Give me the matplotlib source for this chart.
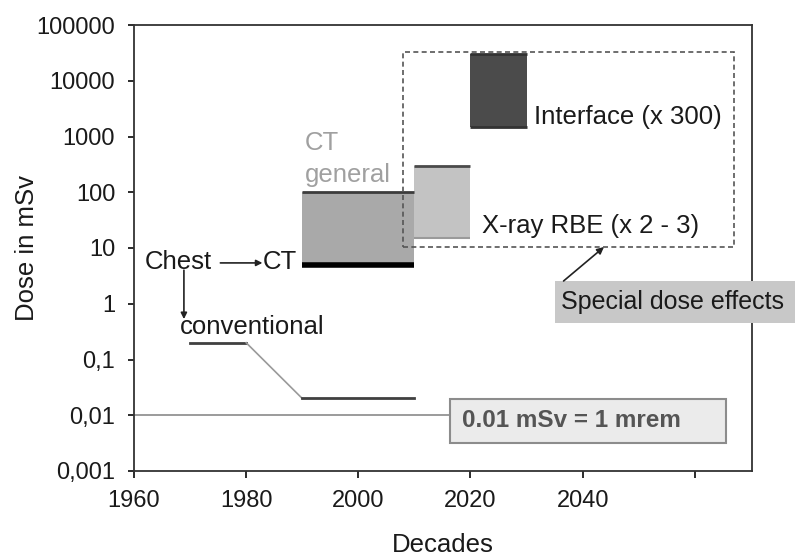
import matplotlib
matplotlib.use("Agg")
import matplotlib.pyplot as plt
from matplotlib.patches import Rectangle

plt.rcParams["font.family"] = ["Liberation Sans", "DejaVu Sans"]

# ---------------------------------------------------------------------------
# Data
# ---------------------------------------------------------------------------
dose_ticks = [0.001, 0.01, 0.1, 1, 10, 100, 1000, 10000, 100000]
dose_labels = ["0,001", "0,01", "0,1", "1", "10", "100", "1000", "10000", "100000"]
year_ticks = [1960, 1980, 2000, 2020, 2040, 2060]
year_labels = ["1960", "1980", "2000", "2020", "2040", ""]

# dose ranges: (start year, end year, low dose, high dose)
ct_general = (1990, 2010, 5, 100)
xray_rbe = (2010, 2020, 15, 300)
interface = (2020, 2030, 1500, 30000)

# conventional chest x-ray dose path
conv_years = [1970, 1980, 1990, 2010]
conv_dose = [0.2, 0.2, 0.02, 0.02]

mrem_level = 0.01

# special dose effects region
special_years = (2008, 2067)
special_dose = (10.5, 33000)

# ---------------------------------------------------------------------------
# Figure
# ---------------------------------------------------------------------------
fig = plt.figure(figsize=(7.95, 5.58), dpi=100)
W, H = 795, 558
ax = fig.add_axes([134 / W, 1 - 471 / H, (752 - 134) / W, (471 - 25) / H])
ax.set_yscale("log")
ax.set_xlim(1960, 2070.2)
ax.set_ylim(0.001, 100000)


def box(rng, face, top_col, bot_col=None, top_lw=2.0, bot_lw=2.0):
    x0, x1, lo, hi = rng
    ax.bar(x0, hi - lo, bottom=lo, width=x1 - x0, align="edge",
           color=face, linewidth=0, zorder=2)
    ax.hlines(hi, x0, x1, color=top_col, lw=top_lw, zorder=3)
    if bot_col is not None:
        ax.hlines(lo, x0, x1, color=bot_col, lw=bot_lw, zorder=3)


box(ct_general, "#a9a9a9", "#3c3c3c", "#000000", top_lw=2.0, bot_lw=4.0)
box(xray_rbe, "#c3c3c3", "#4a4a4a", "#9a9a9a", top_lw=2.0, bot_lw=1.5)
box(interface, "#4b4b4b", "#333333", "#333333", top_lw=2.0, bot_lw=2.0)

# conventional path: dark flats joined by thin grey slope
ax.plot(conv_years[:2], conv_dose[:2], color="#404040", lw=2, zorder=3)
ax.plot(conv_years[1:3], conv_dose[1:3], color="#9a9a9a", lw=1.2, zorder=3)
ax.plot(conv_years[2:], conv_dose[2:], color="#404040", lw=2, zorder=3)

# 0.01 mSv reference line and label box
ax.hlines(mrem_level, 1960, 2016.4, color="#8a8a8a", lw=1.2, zorder=2)
ax.add_patch(Rectangle((2016.4, 0.00318), 2065.5 - 2016.4, 0.0196 - 0.00318,
                       facecolor="#ebebeb", edgecolor="#8c8c8c", lw=1.5, zorder=4))
ax.text(2018.4, 0.0079, "0.01 mSv = 1 mrem", fontsize=17.5, fontweight="bold",
        color="#555555", va="center", ha="left", zorder=5)

# dashed region
ax.add_patch(Rectangle((special_years[0], special_dose[0]),
                       special_years[1] - special_years[0],
                       special_dose[1] - special_dose[0],
                       fill=False, edgecolor="#555555", lw=1.2,
                       linestyle=(0, (3, 2)), zorder=4))

# special dose effects label (box runs off the right edge)
ax.add_patch(Rectangle((2035.1, 0.452), 50, 2.56 - 0.452,
                       facecolor="#c8c8c8", edgecolor="none",
                       clip_on=False, zorder=6))
ax.text(2036.1, 1.07, "Special dose effects", fontsize=18, color="#1a1a1a",
        va="center", ha="left", clip_on=False, zorder=7)
ax.annotate("", xy=(2043.8, 10.4), xytext=(2036.6, 2.56),
            arrowprops=dict(arrowstyle="-|>", color="#222222", lw=1.2,
                            mutation_scale=10, shrinkA=0, shrinkB=0),
            zorder=7)

# text labels
ax.text(1990.4, 760, "CT", fontsize=18.5, color="#a0a0a0", va="center", ha="left")
ax.text(1990.4, 205, "general", fontsize=18.5, color="#a0a0a0", va="center", ha="left")
ax.text(2031.4, 2240, "Interface (x 300)", fontsize=18.5, color="#1a1a1a",
        va="center", ha="left")
ax.text(2022.1, 25, "X-ray RBE (x 2 - 3)", fontsize=18.5, color="#1a1a1a",
        va="center", ha="left")
ax.text(1962.0, 5.6, "Chest", fontsize=18.5, color="#1a1a1a", va="center", ha="left")
ax.text(1982.9, 5.6, "CT", fontsize=18.5, color="#1a1a1a", va="center", ha="left")
ax.text(1968.2, 0.38, "conventional", fontsize=18.5, color="#1a1a1a",
        va="center", ha="left")
ax.annotate("", xy=(1982.9, 5.4), xytext=(1975.4, 5.4),
            arrowprops=dict(arrowstyle="-|>", color="#222222", lw=1.2,
                            mutation_scale=9, shrinkA=0, shrinkB=0))
ax.annotate("", xy=(1968.9, 0.53), xytext=(1968.9, 4.0),
            arrowprops=dict(arrowstyle="-|>", color="#222222", lw=1.2,
                            mutation_scale=9, shrinkA=0, shrinkB=0))

# axes styling
ax.set_yticks(dose_ticks)
ax.set_yticklabels(dose_labels)
ax.minorticks_off()
ax.set_xticks(year_ticks)
ax.set_xticklabels(year_labels)
ax.tick_params(axis="both", labelsize=17, colors="#1a1a1a", width=1.3)
ax.tick_params(axis="x", length=5, pad=9)
ax.tick_params(axis="y", length=4.5, pad=9)
for s in ax.spines.values():
    s.set_color("#333333")
    s.set_linewidth(1.3)

ax.set_xlabel("Decades", fontsize=18.5, color="#1a1a1a")
ax.set_ylabel("Dose in mSv", fontsize=18.5, color="#1a1a1a")
ax.xaxis.set_label_coords(0.5, -(545 - 471) / (471 - 25), transform=ax.transAxes)
ax.yaxis.set_label_coords(-(134 - 27) / (752 - 134), 0.5, transform=ax.transAxes)
ax.xaxis.label.set_va("center")
ax.yaxis.label.set_va("center")

fig.savefig("out.png", dpi=100)
